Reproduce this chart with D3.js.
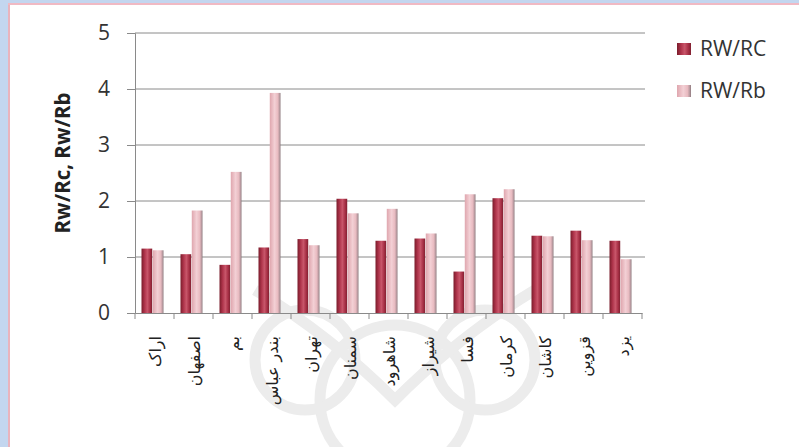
<!DOCTYPE html>
<html>
<head>
<meta charset="utf-8">
<script src="https://cdn.jsdelivr.net/npm/d3@7"></script>
<style>
  body { margin: 0; background: #fff; }
  svg { display: block; }
</style>
</head>
<body>
<svg id="chart"></svg>
<script>
const width = 799;
const height = 447;

// data
const cities = ["اراک", "اصفهان", "بم", "بندر عباس", "تهران", "سمنان", "شاهرود", "شیراز", "فسا", "کرمان", "کاشان", "قزوین", "یزد"];
const rwRc = [1.15, 1.05, 0.86, 1.17, 1.32, 2.04, 1.29, 1.33, 0.74, 2.05, 1.38, 1.47, 1.29];
const rwRb = [1.12, 1.83, 2.52, 3.93, 1.21, 1.78, 1.86, 1.42, 2.12, 2.21, 1.37, 1.30, 0.96];
const seriesNames = ["RW/RC", "RW/Rb"];
const yTicks = [0, 1, 2, 3, 4, 5];

const svg = d3.select("#chart")
  .attr("width", width)
  .attr("height", height)
  .attr("viewBox", `0 0 ${width} ${height}`);

// marco azul y rosa
svg.append("rect").attr("width", width).attr("height", height).attr("fill", "#fff");
svg.append("rect").attr("x", 0).attr("y", 0).attr("width", 8).attr("height", height).attr("fill", "#c3d6ef");
svg.append("rect").attr("x", 0).attr("y", 0).attr("width", width).attr("height", 3).attr("fill", "#c3d6ef");
svg.append("line").attr("x1", 9).attr("x2", 9).attr("y1", 3).attr("y2", height).attr("stroke", "#e9b3bd").attr("stroke-width", 2);
svg.append("line").attr("x1", 8).attr("x2", width).attr("y1", 4).attr("y2", 4).attr("stroke", "#f0b9c3").attr("stroke-width", 2);

// watermark (aprox.)
const wm = svg.append("g").attr("fill", "none").attr("stroke", "#ececec").attr("stroke-width", 11);
wm.append("circle").attr("cx", 395).attr("cy", 400).attr("r", 75);
wm.append("circle").attr("cx", 305).attr("cy", 360).attr("r", 50);
wm.append("circle").attr("cx", 485).attr("cy", 360).attr("r", 50);
wm.append("path").attr("d", "M255,290 Q330,335 395,400 Q460,335 535,290");

const defs = svg.append("defs");
const g1 = defs.append("linearGradient").attr("id", "gRc");
[[0, "#7a1c2b"], [0.3, "#b0354c"], [0.55, "#c8566a"], [0.8, "#a83046"], [1, "#7f2030"]]
  .forEach(([o, c]) => g1.append("stop").attr("offset", o).attr("stop-color", c));
const g2 = defs.append("linearGradient").attr("id", "gRb");
[[0, "#dfa6ae"], [0.45, "#f3d0d5"], [0.75, "#e8bac0"], [0.9, "#b99aa0"], [1, "#8e7a7e"]]
  .forEach(([o, c]) => g2.append("stop").attr("offset", o).attr("stop-color", c));
const fills = ["url(#gRc)", "url(#gRb)"];

const margin = { left: 135 };

const x = d3.scaleBand().domain(cities).range([margin.left, margin.left + 507]);
const xs = d3.scaleBand().domain(seriesNames).range([6.5, 28.5]).paddingInner(0.05);
const y = d3.scaleLinear().domain([0, 5]).range([313, 33]);

// grid
svg.append("g")
  .selectAll("line")
  .data(yTicks.slice(1))
  .join("line")
  .attr("x1", margin.left).attr("x2", margin.left + 510)
  .attr("y1", d => y(d)).attr("y2", d => y(d))
  .attr("stroke", "#8a8a8a").attr("stroke-width", 1);

// y axis
const yAxis = svg.append("g")
  .attr("transform", `translate(${margin.left},0)`)
  .call(d3.axisLeft(y).tickValues(yTicks).tickFormat(d3.format("d")).tickSize(8).tickPadding(17));
yAxis.select(".domain").attr("stroke", "#8a8a8a");
yAxis.selectAll(".tick line").attr("stroke", "#8a8a8a");
yAxis.selectAll("text")
  .attr("font-family", "'Open Sans', sans-serif")
  .attr("font-size", 21)
  .attr("fill", "#333");

// bars
cities.forEach((c, i) => {
  [rwRc, rwRb].forEach((vals, s) => {
    svg.append("rect")
      .attr("x", x(c) + xs(seriesNames[s]))
      .attr("y", y(vals[i]))
      .attr("width", xs.bandwidth())
      .attr("height", y(0) - y(vals[i]))
      .attr("fill", fills[s]);
  });
});

// x axis
const xAxis = svg.append("g")
  .attr("transform", `translate(0,${y(0)})`)
  .call(d3.axisBottom(x).tickSize(0).tickFormat(""));
xAxis.select(".domain").attr("stroke", "#8a8a8a");
svg.append("g")
  .selectAll("line")
  .data(d3.range(cities.length + 1))
  .join("line")
  .attr("x1", d => margin.left + d * x.step()).attr("x2", d => margin.left + d * x.step())
  .attr("y1", y(0)).attr("y2", y(0) + 6)
  .attr("stroke", "#8a8a8a");

svg.append("g")
  .selectAll("text")
  .data(cities)
  .join("text")
  .attr("transform", d => `translate(${x(d) + x.bandwidth() / 2 + 6},${y(0) + 23}) rotate(-90)`)
  .attr("text-anchor", "end")
  .attr("font-family", "'DejaVu Sans', sans-serif")
  .attr("font-size", 16)
  .attr("fill", "#222")
  .text(d => d);

// y label
svg.append("text")
  .attr("transform", "translate(70,163) rotate(-90)")
  .attr("text-anchor", "middle")
  .attr("font-family", "'Open Sans', sans-serif")
  .attr("font-weight", "bold")
  .attr("font-size", 20.5)
  .attr("fill", "#222")
  .text("Rw/Rc, Rw/Rb");

// legend
const legend = svg.append("g").attr("transform", "translate(677,43)");
seriesNames.forEach((n, i) => {
  const row = legend.append("g").attr("transform", `translate(0,${i * 42})`);
  row.append("rect").attr("width", 14).attr("height", 12).attr("fill", fills[i]);
  row.append("text")
    .attr("x", 23).attr("y", 13)
    .attr("font-family", "'Open Sans', sans-serif")
    .attr("font-size", 21)
    .attr("fill", "#333")
    .text(n);
});
</script>
</body>
</html>
